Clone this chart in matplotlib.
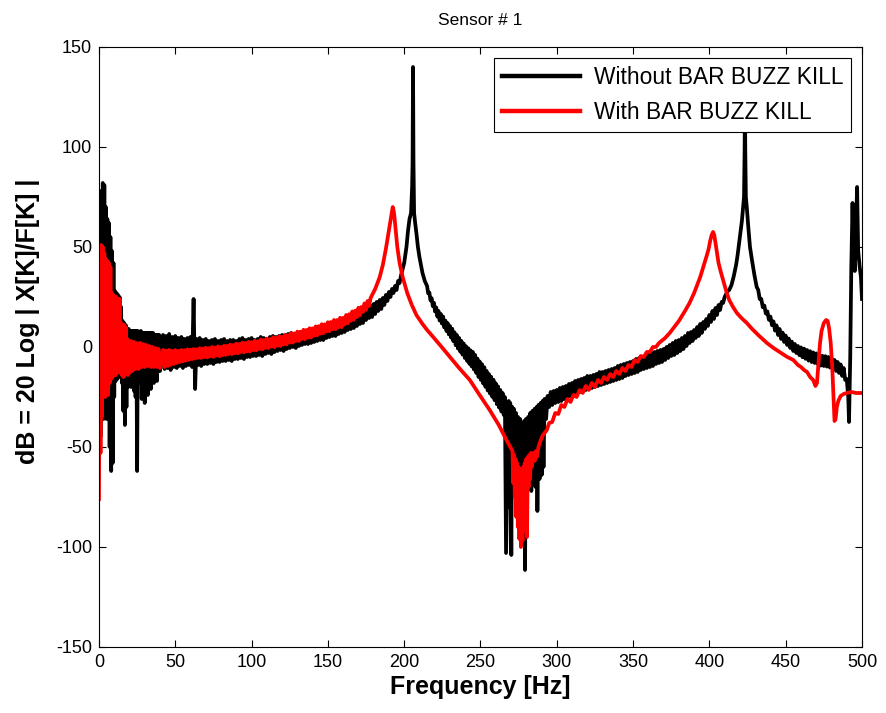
import numpy as np
import matplotlib
matplotlib.use("Agg")
import matplotlib.pyplot as plt

plt.rcParams['font.family'] = ['Liberation Sans', 'DejaVu Sans']
plt.rcParams['axes.unicode_minus'] = False

# ================= Without BAR BUZZ KILL (black) =================
# 0 - 40 Hz, every 0.5 Hz (very noisy start)
blk_low_f = np.arange(0, 40.5, 0.5)
blk_low_db = [-20, 60, -45, 78, -30, 82, -36, 81, -25, 70,
              -36, 64, -20, 62, -50, 55, -62, 48, -58, 42,
              -25, 28, -17, 27, -16, 26, -14, 25, -15, 20,
              -18, 13, -32, 12, -39, 11, -30, 9, -20, 9,
              -16, 8, -20, 8, -14, 8, -22, 8, -25, 8,
              -62, 8, -18, 7, -15, 8, -26, 7, -22, 7,
              -28, 7, -20, 7, -24, 7, -15, 7, -21, 7,
              -14, 7, -18, 6, -13, 6, -17, 6, -12, 6,
              -12]

# 42 - 197 Hz: top of the band at even Hz, bottom at odd Hz
blk_b1_f = np.arange(42, 197, 2)
blk_b1_top = [6, 5.5, 6.5, 5, 5.5, 4.5, 5, 4, 4.5, 5,
              24, 4, 4.5, 3.5, 4, 3, 3.5, 4, 3, 3.5,
              4, 3, 3.5, 3.5, 3, 4, 4.5, 3.5, 4, 4.5,
              3.5, 4, 5, 4.5, 4, 5, 5.5, 5, 5.5, 6,
              6, 6.5, 7, 6.5, 7, 7.5, 7.5, 8, 8.5, 8,
              9, 9.5, 10, 9.5, 10.5, 11, 11, 12, 12.5, 12.5,
              13.5, 14, 15, 16, 16.7, 17.5, 18.5, 19.5, 20.5, 21.5,
              22.5, 23.5, 24.5, 26, 27.5, 29, 30.5, 33]
blk_b1_bot = [-11, -10.5, -11.5, -10, -10.5, -9.5, -10.5, -9.5, -9, -10,
              -21, -9, -9.5, -8.5, -8.5, -8, -8.5, -7.5, -7.5, -7,
              -7, -6.5, -7, -6, -6, -5.5, -6, -5, -5, -4.5,
              -4.5, -4, -4.5, -3.5, -3, -3.5, -2.5, -2, -1.5, -2,
              -1, -0.5, 0, -0.5, 0.5, 1, 1.5, 1.5, 2, 2.5,
              3, 3.5, 3.5, 4.5, 5, 5.5, 5.5, 6.5, 7, 7.5,
              8.5, 9, 9.5, 10.5, 11.5, 12, 13.5, 14.5, 15, 16.5,
              18, 19, 21, 23, 25, 27, 28.5, 32]

# first resonance
blk_pk1_f = [198, 200, 201.5, 202.5, 203.5, 204.5, 205.2, 205.5, 205.8, 206.1,
             206.5, 207.2, 208, 209, 210, 211, 212, 213.5]
blk_pk1_db = [36, 42, 50, 58, 64, 67, 80, 92, 140, 92,
              67, 62, 57, 50, 45, 41, 37, 33]

# falling side 215 - 267 Hz: top at 215 + 1.5k, bottom 0.75 Hz later
blk_b2_f = np.arange(215, 266.5, 1.5)
blk_b2_top = [30.5, 27.2, 24.4, 22.1, 19.8, 18, 16.5, 15.2, 13.2, 11.9,
              10.5, 9.1, 7.3, 6, 4.5, 3, 1.7, 0.4, -0.6, -1.7,
              -2.5, -4, -5.8, -7.3, -8.6, -10.1, -12, -13.5, -14.9, -16.4,
              -18.2, -19.7, -21.5, -23, -25]
blk_b2_bot = [26.8, 23.3, 20.4, 17.7, 15.2, 13.2, 11.7, 9.8, 8, 6.3,
              4.7, 2.9, 0.9, -0.8, -2.3, -3.8, -5.5, -7, -8.4, -9.8,
              -11.3, -13, -15, -16.5, -18.2, -19.9, -21.8, -23.3, -24.9, -26.6,
              -28.6, -30.3, -32.3, -34, -103]

# anti-resonance valley
blk_valley_f = [268.5, 269, 269.5, 270.2, 270.8, 271.5, 272, 272.7, 273.3, 274,
                274.6, 275.3, 276, 276.7, 277.4, 278.1, 278.6, 279.2, 279.8, 280.5,
                281.2, 281.9, 282.6, 283.3, 284, 284.7, 285.4, 286.1, 286.8, 287.3,
                288, 288.7, 289.4, 290.1, 290.7, 291.3, 292, 293]
blk_valley_db = [-27, -80, -28, -104, -30, -70, -31, -66, -33, -78,
                 -35, -68, -36, -72, -38, -85, -37, -111.5, -36, -75,
                 -35, -68, -33, -72, -32, -64, -31, -70, -30, -82,
                 -29, -66, -28, -64, -27, -60, -26, -36]

# rising side 294 - 413 Hz: top at even Hz, bottom at odd Hz
blk_b3_f = np.arange(294, 413, 2)
blk_b3_top = [-24.5, -22.5, -22, -21.5, -20.5, -20, -19.5, -18.5, -18, -17,
              -16.5, -16, -15.5, -14.5, -14.5, -14, -13.5, -12.5, -12.5, -12,
              -11.5, -11, -10.5, -9.5, -9, -8.5, -8, -7.5, -7, -6,
              -5.5, -5, -4.5, -4, -3, -2.5, -2, -1.5, -1, 0,
              1, 2, 3, 3.5, 4.5, 5.5, 7, 7.5, 8.5, 10,
              11.5, 12.5, 14, 16, 18, 19.5, 21, 22.5, 25, 28]
blk_b3_bot = [-30, -29, -28, -27.5, -27, -26, -25.5, -24.5, -24, -23.5,
              -22.5, -22, -21.5, -21, -20.5, -20, -19.5, -19, -18.5, -18,
              -17.5, -17, -16.5, -16, -15.5, -14.5, -14, -13.5, -13, -12.5,
              -11.5, -11, -10.5, -10, -9.5, -8.5, -8, -7.5, -6.5, -5.5,
              -4.5, -4, -3, -2, -1, 0.5, 2, 3, 4.5, 5.5,
              7, 9, 10.5, 12.5, 14, 16, 18.5, 22, 26.5, 28.5]

# second resonance
blk_pk2_f = [414.5, 416, 417.5, 418.5, 419.5, 420.5, 421.3, 422, 422.7, 423.1,
             423.3, 423.5, 423.9, 424.5, 425.5, 426.6, 428, 429.5, 431]
blk_pk2_db = [31, 35.5, 41, 46, 52, 58, 63, 69, 75, 100,
              130, 100, 75, 70, 60, 50, 43, 36, 30]

# falling side 432 - 489 Hz
blk_b4_f = np.arange(432, 489, 2)
blk_b4_top = [28.5, 24, 20.7, 17.8, 15.2, 12.8, 10.8, 9, 7.2, 5.7,
              4.2, 2.7, 1.5, 0.5, -0.2, -0.8, -1.5, -2.1, -2.7, -3.2,
              -3.9, -4.4, -4.6, -5, -5.6, -6.5, -7.5, -8.7, -10.5]
blk_b4_bot = [24, 19.9, 16.7, 13.6, 10.9, 8.2, 6, 4, 2.5, 1,
              -0.5, -2, -3, -4.1, -5.1, -5.9, -6.8, -7.5, -8, -8.5,
              -9.3, -9.5, -9.8, -10.3, -11, -12, -13, -14.5, -16.5]

blk_end_f = [490, 491, 491.5, 492.3, 493, 493.8, 494.5, 495.3, 496, 496.8,
             497.5, 498.5, 499.3, 500]
blk_end_db = [-16, -25, -37.5, -5, 40, 72, 45, 38, 58, 80,
              48, 40, 35, 24]

# ================= With BAR BUZZ KILL (red) =================
red_low_f = np.arange(0, 20.5, 0.5)
red_low_db = [-76, 50, -53, 51, -35, 50, -24, 47, -25, 44,
              -22, 43, -24, 42, -18, 40, -16, 27, -15, 26,
              -14, 25, -14, 25, -13, 24, -12, 24, -13, 12,
              -14, 11, -15, 11, -14, 10, -13, 4, -14, 3,
              -13]

red_low2_f = np.arange(21, 41, 1)
red_low2_db = [3, -12, 2.5, -11, 2, -11, 2, -10, 1.5, -10,
               1, -9.5, 0.5, -10, 0, -10, -0.5, -10, -1, -10.5]

# 42 - 177 Hz: top at even Hz, bottom at odd Hz
red_b1_f = np.arange(42, 177, 2)
red_b1_top = [-1.5, -1.8, -1.5, -2, -1.6, -2, -1.5, -1.7, -1.2, -1.4,
              -1, -1.2, -0.6, -0.9, -0.4, -0.6, 0, -0.3, 0.3, 0,
              0.6, 0.5, 1.2, 1, 1.7, 1.5, 2.2, 2, 2.6, 2.4,
              3.1, 2.9, 3.7, 3.5, 4.2, 4, 4.8, 4.6, 5.3, 5.1,
              6, 5.9, 6.9, 6.8, 7.7, 7.6, 8.6, 8.5, 9.4, 9.3,
              10.3, 10.4, 11.4, 11.3, 12.4, 12.5, 13.5, 13.5, 14.6, 14.6,
              16, 16.4, 17.8, 18.2, 19.6, 20, 21.8, 23]
red_b1_bot = [-10, -9.5, -9, -8.5, -8, -7.5, -7.2, -6.8, -6.4, -6.1,
              -5.8, -5.4, -5.5, -5, -5.2, -4.7, -4.9, -4.3, -4.6, -4.1,
              -4, -3.5, -3.6, -3.1, -3.2, -2.5, -2.7, -2.2, -2.3, -1.6,
              -1.7, -1, -1.2, -0.5, -0.6, 0.1, -0.1, 0.6, 0.5, 1.3,
              1.3, 2.2, 2.2, 3, 3, 4, 3.9, 4.7, 4.7, 5.7,
              5.8, 6.7, 6.8, 7.8, 7.9, 8.8, 8.9, 9.8, 9.9, 11.3,
              11.8, 13.1, 13.6, 14.9, 15.8, 17.5, 18.6, 20.5]

red_pk1_f = [178, 181, 184, 186, 188, 189.5, 191, 192, 192.5, 193,
             193.5, 194.5, 195.5, 197, 199, 202, 205, 208, 212, 215,
             219, 224, 230, 236, 243, 249, 256, 262, 267]
red_pk1_db = [24.5, 29, 35, 41, 49, 56, 63, 68, 70, 68.5,
              66, 58, 50, 42, 35, 27, 21, 16, 11.5, 8.5,
              5, 0.5, -5, -10.5, -16.5, -23.5, -31.5, -39, -46.5]

red_valley_f = [271, 271.5, 272, 272.5, 273, 273.5, 274, 274.5, 275, 275.5,
                276, 276.5, 277, 277.5, 278, 278.5, 279, 279.5, 280, 280.5,
                281, 281.5, 282, 282.5, 283, 283.5, 284.5, 285.5, 286.3, 287,
                288, 289.5, 291]
red_valley_db = [-52, -68, -54, -75, -56, -85, -58, -90, -60, -96,
                 -62, -100, -62, -97, -60, -92, -58, -88, -56, -95,
                 -55, -70, -54, -66, -53, -60, -53, -57, -52, -55,
                 -50, -46.5, -44]

red_rise_f = [293.5, 295, 297, 299, 301, 303, 305, 307, 309, 311,
              313, 315, 317, 319, 321, 323, 325, 327, 329, 331,
              333, 335, 337, 339, 341, 343, 345, 347, 349, 351,
              353, 355, 357, 359, 361, 363, 365, 367]
red_rise_db = [-41.5, -38, -37.5, -33, -33.5, -29, -30, -26, -27.5, -24,
               -25, -21.5, -23, -19.5, -21.5, -18, -20, -16.5, -18, -15,
               -16.5, -13.5, -15, -12, -13.5, -10.5, -12, -9, -10, -6.5,
               -7.5, -4.5, -5, -2.5, -2.5, 0, 0, 2]

red_pk2_f = [371, 374, 377, 380, 384, 387, 390, 392, 394, 396,
             398, 399.5, 400.5, 401.5, 402.4, 403.2, 404, 405, 406, 407.5,
             409, 411, 413, 415.5, 418, 421, 424.5, 428, 432, 437.7,
             442, 447, 451, 455, 458, 460, 462, 464, 466, 468,
             469.5, 470.5, 471.5, 472.5, 473.5, 475, 476.5, 477.5, 478.5, 479.5,
             480.5, 481.3, 482, 482.7, 483.5, 484.5, 486, 488, 490, 493,
             496, 500]
red_pk2_db = [4.5, 7, 10, 13, 18, 22, 27, 31, 35, 40,
              45, 49, 53, 56, 57.5, 56, 52, 47, 42, 37.5,
              33.5, 28, 23.5, 20, 17, 14.5, 12, 9, 6, 2,
              -0.5, -3, -5, -6.5, -9, -10, -11.5, -12.5, -15, -16.5,
              -19.5, -18, -8, 2, 8, 12, 13.5, 13, 9, 2,
              -10, -25, -37, -36, -30, -27, -24.5, -23.5, -23, -22.5,
              -23, -23]


def band(f, top, bot, step):
    # alternate between the top and bottom of a noisy band
    ff = np.column_stack([f, np.asarray(f) + step]).ravel()
    yy = np.column_stack([top, bot]).ravel()
    return ff, yy


pieces_blk = [(blk_low_f, blk_low_db),
              band(blk_b1_f, blk_b1_top, blk_b1_bot, 1),
              (blk_pk1_f, blk_pk1_db),
              band(blk_b2_f, blk_b2_top, blk_b2_bot, 0.75),
              (blk_valley_f, blk_valley_db),
              band(blk_b3_f, blk_b3_top, blk_b3_bot, 1),
              (blk_pk2_f, blk_pk2_db),
              band(blk_b4_f, blk_b4_top, blk_b4_bot, 1),
              (blk_end_f, blk_end_db)]
pieces_red = [(red_low_f, red_low_db),
              (red_low2_f, red_low2_db),
              band(red_b1_f, red_b1_top, red_b1_bot, 1),
              (red_pk1_f, red_pk1_db),
              (red_valley_f, red_valley_db),
              (red_rise_f, red_rise_db),
              (red_pk2_f, red_pk2_db)]

blk_f = np.concatenate([p[0] for p in pieces_blk])
blk_db = np.concatenate([p[1] for p in pieces_blk])
red_f = np.concatenate([p[0] for p in pieces_red])
red_db = np.concatenate([p[1] for p in pieces_red])

fig = plt.figure(figsize=(8.86, 7.13), dpi=100)
ax = fig.add_axes([0.1117, 0.0926, 0.8612, 0.8415])

ax.plot(blk_f, blk_db, color='black', lw=2.7, label='Without BAR BUZZ KILL')
ax.plot(red_f, red_db, color='#ff0000', lw=2.7, label='With BAR BUZZ KILL')

ax.set_xlim(0, 500)
ax.set_ylim(-150, 150)
ax.set_xticks(np.arange(0, 501, 50))
ax.set_yticks(np.arange(-150, 151, 50))
ax.tick_params(direction='in', top=True, right=True, length=5, width=0.8,
               labelsize=13, pad=5)
for s in ax.spines.values():
    s.set_linewidth(0.8)

ax.set_title('Sensor # 1', fontsize=12.5, pad=16)
ax.set_xlabel('Frequency [Hz]', fontsize=18, fontweight='bold', labelpad=3)
ax.set_ylabel('dB = 20 Log | X[K]/F[K] |', fontsize=18, fontweight='bold')
ax.yaxis.set_label_coords(-0.077, 0.543)

leg = ax.legend(loc='upper right', bbox_to_anchor=(0.9856, 0.9817), fontsize=16.4,
                frameon=True, fancybox=False, framealpha=1, edgecolor='black',
                handlelength=3.4, handletextpad=0.6, borderpad=0.35, labelspacing=0.55,
                borderaxespad=0)
leg.get_frame().set_linewidth(0.8)
for line in leg.get_lines():
    line.set_linewidth(3.2)

fig.savefig('out.png', dpi=100)
